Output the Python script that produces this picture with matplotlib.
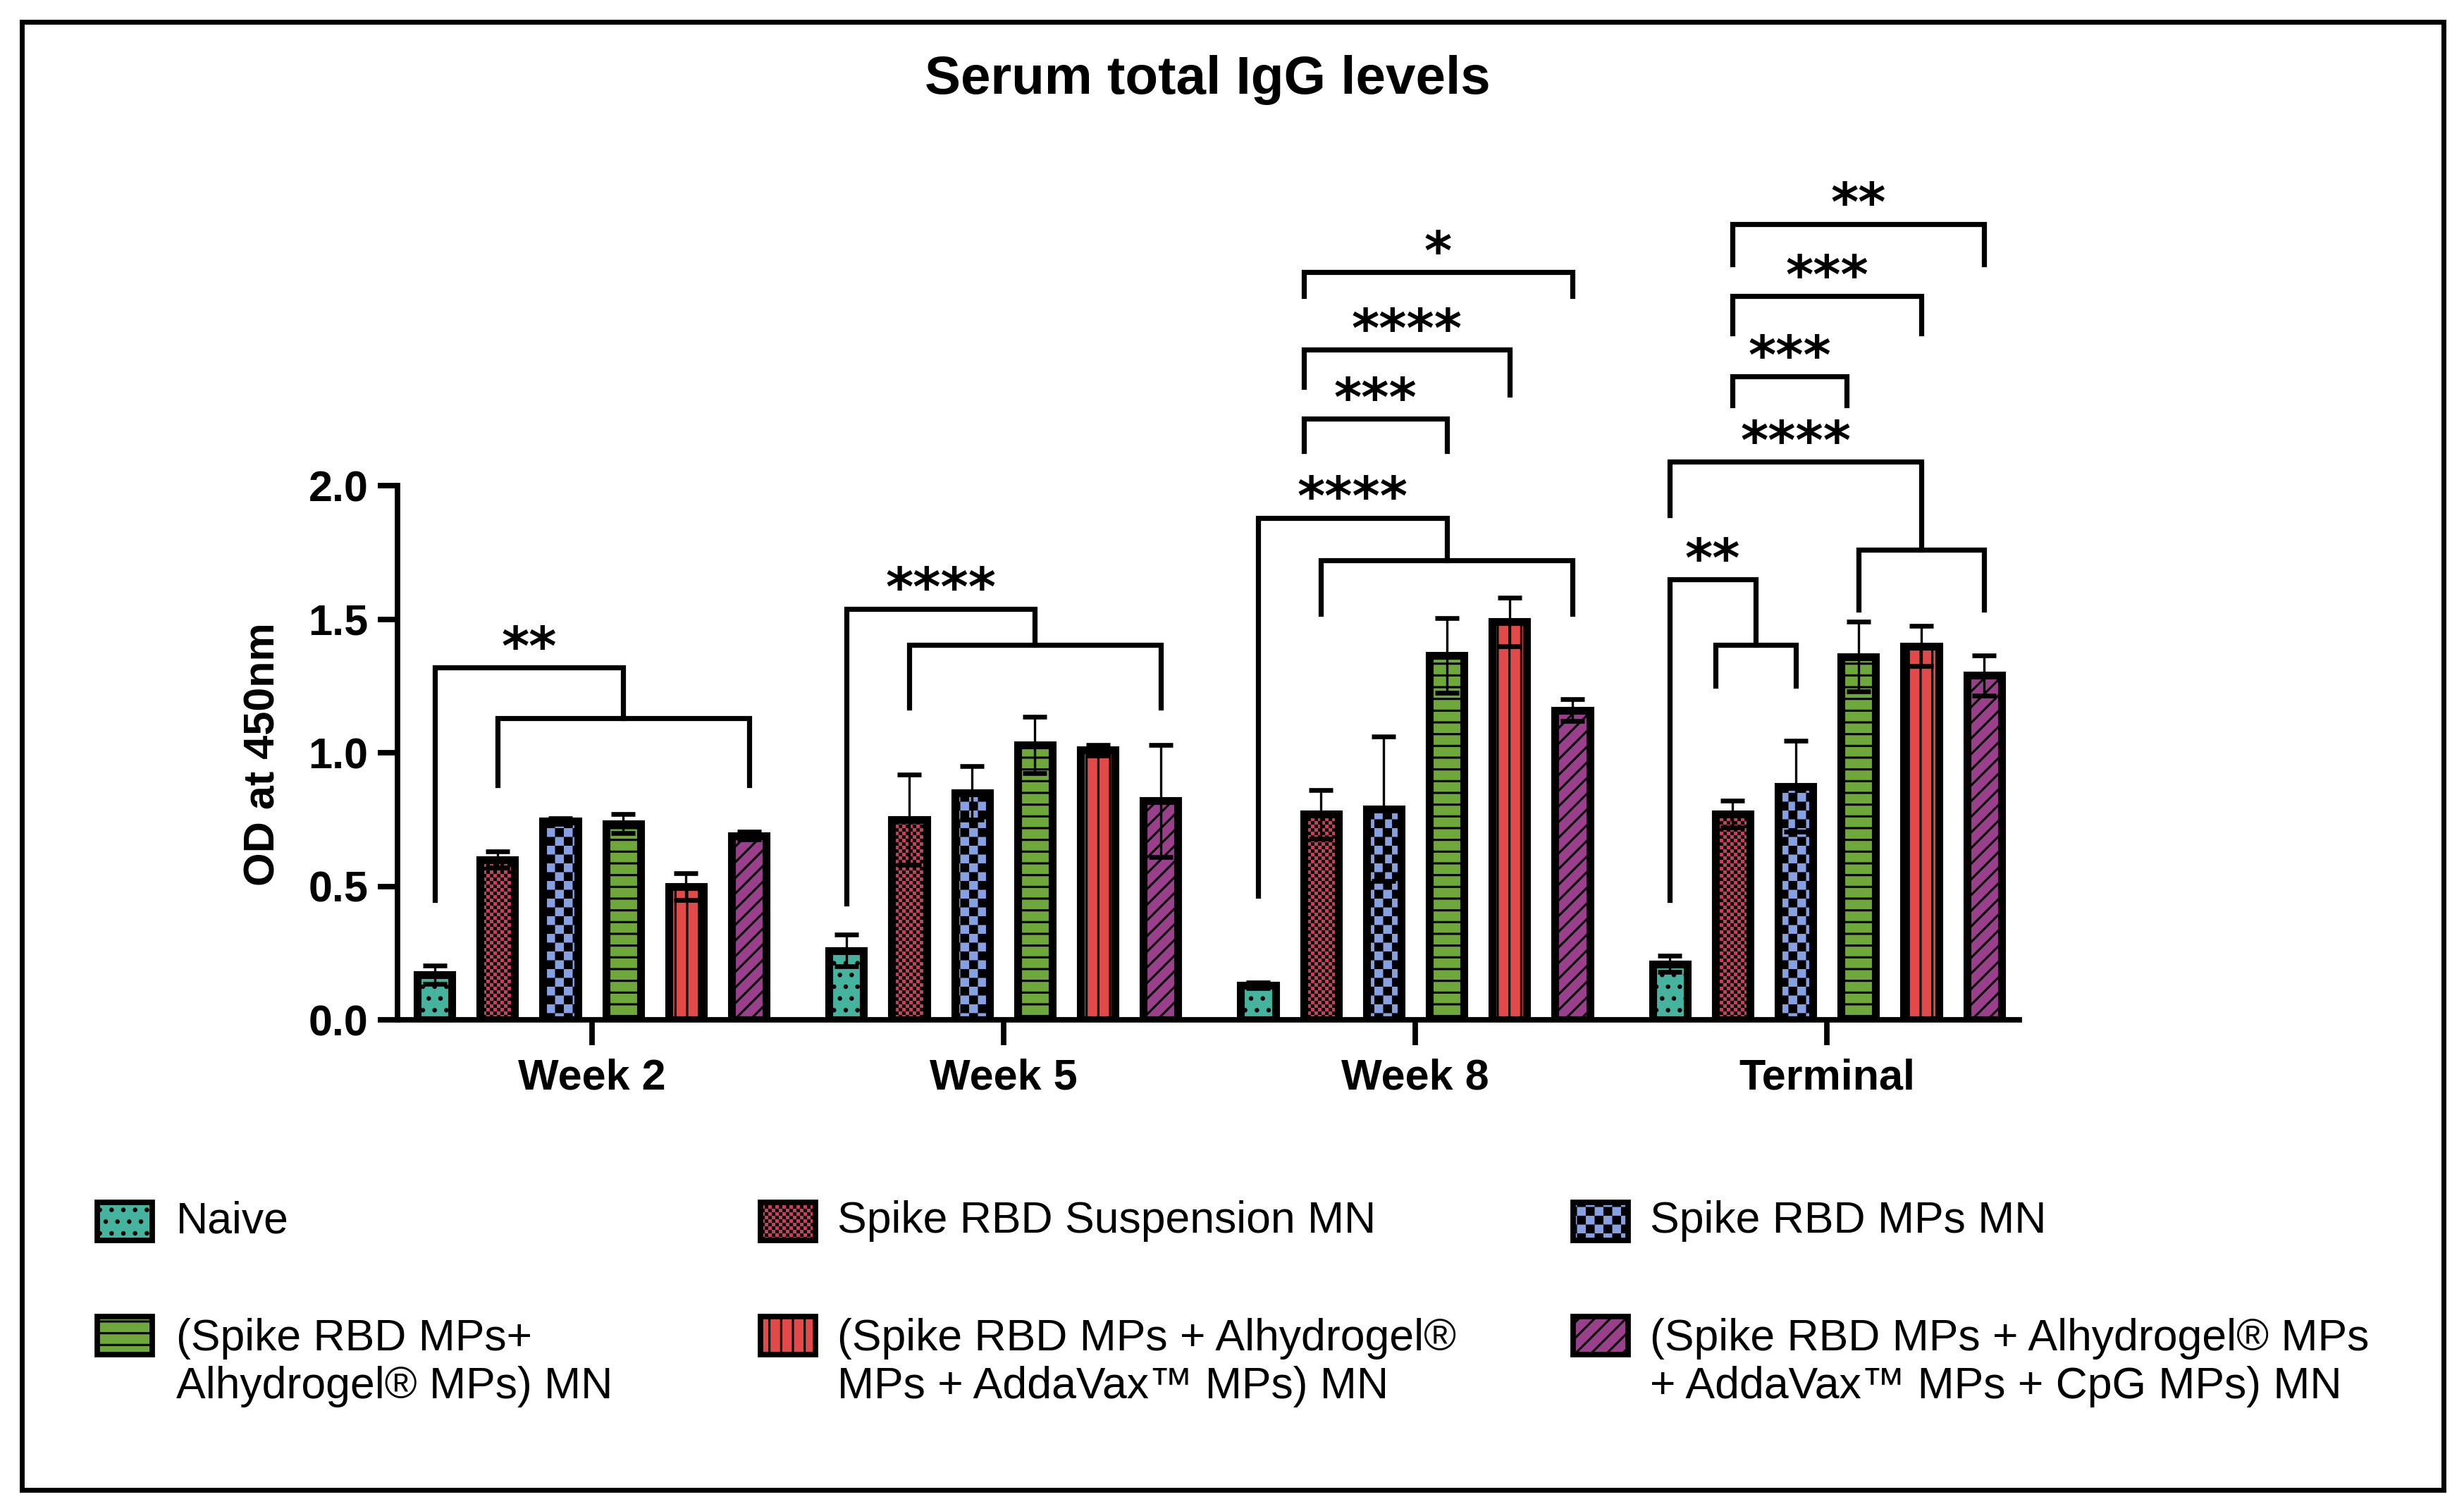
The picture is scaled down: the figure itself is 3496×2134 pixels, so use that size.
import numpy as np
import matplotlib
matplotlib.use('Agg')
import matplotlib.pyplot as plt
import matplotlib.hatch as mhatch
from matplotlib.path import Path
from matplotlib.patches import Rectangle

# ---------------- data ----------------
groups = ['Week 2', 'Week 5', 'Week 8', 'Terminal']
series = ['Naive',
          'Spike RBD Suspension MN',
          'Spike RBD MPs MN',
          '(Spike RBD MPs+\nAlhydrogel® MPs) MN',
          '(Spike RBD MPs + Alhydrogel®\nMPs + AddaVax™ MPs) MN',
          '(Spike RBD MPs + Alhydrogel® MPs\n+ AddaVax™ MPs + CpG MPs) MN']

naive = [0.17, 0.26, 0.13, 0.21]
naive_err = [0.035, 0.06, 0.01, 0.03]
susp = [0.60, 0.75, 0.77, 0.77]
susp_err = [0.03, 0.17, 0.09, 0.05]
mps = [0.745, 0.85, 0.79, 0.875]
mps_err = [0.01, 0.10, 0.27, 0.17]
alhy = [0.735, 1.03, 1.365, 1.36]
alhy_err = [0.035, 0.105, 0.14, 0.13]
adda = [0.50, 1.01, 1.49, 1.40]
adda_err = [0.05, 0.02, 0.09, 0.075]
cpg = [0.69, 0.82, 1.16, 1.29]
cpg_err = [0.015, 0.21, 0.04, 0.075]

values = [naive, susp, mps, alhy, adda, cpg]
errors = [naive_err, susp_err, mps_err, alhy_err, adda_err, cpg_err]

colors = ['#45b39d', '#c8405e', '#86a0e2', '#6ea83a', '#e24a4a', '#9a3f8c']
hatches = ['..', 'O', '*', '--', '||', '///']

# one group vs several: group, single bar, first bar, last bar, top, single foot, inner, inner foot, label, inner nudge
nested = [
    (0, 0, 1, 5, 1.32, 0.45, 1.13, 0.88, '**', 0.0),
    (1, 0, 1, 5, 1.54, 0.435, 1.405, 1.17, '****', 0.0),
    (2, 0, 1, 5, 1.88, 0.465, 1.72, 1.52, '****', 0.0),
    (3, 0, 1, 2, 1.65, 0.45, 1.405, 1.25, '**', -0.042),
    (3, 0, 3, 5, 2.09, 1.89, 1.76, 1.535, '****', 0.0),
]
# pairwise: group, left bar, right bar, top, left foot, right foot, label, left nudge, right nudge
pairs = [
    (2, 1, 3, 2.25, 2.13, 2.13, '***', -0.042, 0.0),
    (2, 1, 4, 2.51, 2.37, 2.34, '****', -0.042, 0.0),
    (2, 1, 5, 2.80, 2.71, 2.71, '*', -0.042, 0.0),
    (3, 1, 3, 2.41, 2.30, 2.30, '***', 0.0, -0.028),
    (3, 1, 4, 2.71, 2.57, 2.57, '***', 0.0, 0.0),
    (3, 1, 5, 2.98, 2.83, 2.83, '**', 0.0, 0.0),
]


# ---------------- checkerboard hatches ----------------
class CheckerHatch(mhatch.HatchPatternBase):
    key = '*'
    cells = 16

    def __init__(self, hatch, density):
        n = self.cells if self.key in hatch else 0
        self.squares = [(i, j) for i in range(n) for j in range(n) if (i + j) % 2 == 0]
        self.num_vertices = 5 * len(self.squares)

    def set_vertices_and_codes(self, vertices, codes):
        s = 1.0 / self.cells
        d = 0.0075
        for k, (i, j) in enumerate(self.squares):
            x0, y0 = i * s + d, j * s + d
            x1, y1 = (i + 1) * s - d, (j + 1) * s - d
            vertices[5 * k:5 * k + 5] = [(x0, y0), (x1, y0), (x1, y1), (x0, y1), (x0, y0)]
            codes[5 * k:5 * k + 5] = [Path.MOVETO, Path.LINETO, Path.LINETO, Path.LINETO, Path.CLOSEPOLY]


class FineChecker(CheckerHatch):
    key = 'O'
    cells = 40


mhatch._hatch_types = [t for t in mhatch._hatch_types
                       if t not in (mhatch.Stars, mhatch.LargeCircles)] + [CheckerHatch, FineChecker]

plt.rcParams['font.family'] = ['Liberation Sans', 'DejaVu Sans']
plt.rcParams['hatch.linewidth'] = 1.1

fig = plt.figure(figsize=(17.48, 10.67), dpi=200)
ax = fig.add_axes([0.1614, 0.3218, 0.6582, 0.5684])

step = 0.1527
width = 0.084
gx = np.arange(len(groups))


def bar_x(g, k):
    return g + (k - 2.5) * step


for k in range(len(series)):
    xs = gx + (k - 2.5) * step
    ax.bar(xs, values[k], width, color=colors[k], edgecolor='black', linewidth=4,
           hatch=hatches[k], zorder=2)
    ax.errorbar(xs, values[k], yerr=errors[k], fmt='none', ecolor='black',
                elinewidth=1.2, capsize=6, capthick=2.4, zorder=3)

# significance brackets
blw = 2.6
star_fs = 27
for g, s, a, b, top, sfoot, inner, ifoot, lab, nud in nested:
    xs = bar_x(g, s)
    xa = bar_x(g, a) + nud
    xb = bar_x(g, b)
    xm = (xa + xb) / 2
    ax.plot([xs, xs, xm, xm], [sfoot, top, top, inner], color='black', lw=blw,
            solid_joinstyle='miter', clip_on=False, zorder=4)
    ax.plot([xa, xa, xb, xb], [ifoot, inner, inner, ifoot], color='black', lw=blw,
            solid_joinstyle='miter', clip_on=False, zorder=4)
    ax.annotate(lab, ((xs + xm) / 2, top + 0.12), xytext=(0, -0.55 * star_fs), textcoords='offset points',
                ha='center', va='baseline', fontsize=star_fs, fontweight='bold', family='DejaVu Sans',
                annotation_clip=False)

for g, a, b, top, lfoot, rfoot, lab, nl, nr in pairs:
    xa = bar_x(g, a) + nl
    xb = bar_x(g, b) + nr
    ax.plot([xa, xa, xb, xb], [lfoot, top, top, rfoot], color='black', lw=blw,
            solid_joinstyle='miter', clip_on=False, zorder=4)
    ax.annotate(lab, ((xa + xb) / 2, top + 0.12), xytext=(0, -0.55 * star_fs), textcoords='offset points',
                ha='center', va='baseline', fontsize=star_fs, fontweight='bold', family='DejaVu Sans',
                annotation_clip=False)

# axes styling
ax.set_xlim(-0.4714, 3.4676)
ax.set_ylim(0, 3.2)
for side in ['top', 'right']:
    ax.spines[side].set_visible(False)
ax.spines['left'].set_bounds(0, 2.0)
ax.spines['left'].set_linewidth(2.8)
ax.spines['bottom'].set_linewidth(2.8)
ax.set_yticks([0.0, 0.5, 1.0, 1.5, 2.0])
ax.set_yticklabels(['0.0', '0.5', '1.0', '1.5', '2.0'], fontsize=22, fontweight='bold')
ax.set_xticks(gx)
ax.set_xticklabels(groups, fontsize=22, fontweight='bold')
ax.tick_params(axis='y', length=10, width=2.8, pad=5)
ax.tick_params(axis='x', length=13, width=2.8, pad=6.5)
ax.patch.set_visible(False)

fig.text(0.107, 0.4984, 'OD at 450nm', rotation=90, ha='center', va='center',
         fontsize=22, fontweight='bold')
fig.text(0.49, 0.947, 'Serum total IgG levels', ha='center', va='center',
         fontsize=27.5, fontweight='bold')

# legend, laid out as in the figure
col_patch = [0.0395, 0.3087, 0.6384]
col_text = [0.0714, 0.3399, 0.6696]
row_patch = [0.188, 0.112]
row_text = [0.188, 0.094]
pw, ph = 0.0223, 0.0251
for k, name in enumerate(series):
    c, r = k % 3, k // 3
    fig.patches.append(Rectangle((col_patch[c], row_patch[r] - ph / 2), pw, ph,
                                 transform=fig.transFigure, facecolor=colors[k],
                                 edgecolor='black', linewidth=2.8, hatch=hatches[k]))
    fig.text(col_text[c], row_text[r], name, ha='left', va='center', fontsize=22.5,
             linespacing=1.2)

# outer frame
fig.patches.append(Rectangle((0.0089, 0.0094), 0.9828, 0.976, transform=fig.transFigure,
                             fill=False, edgecolor='black', linewidth=2.5))

fig.savefig('out.png', dpi=200, facecolor='white')
